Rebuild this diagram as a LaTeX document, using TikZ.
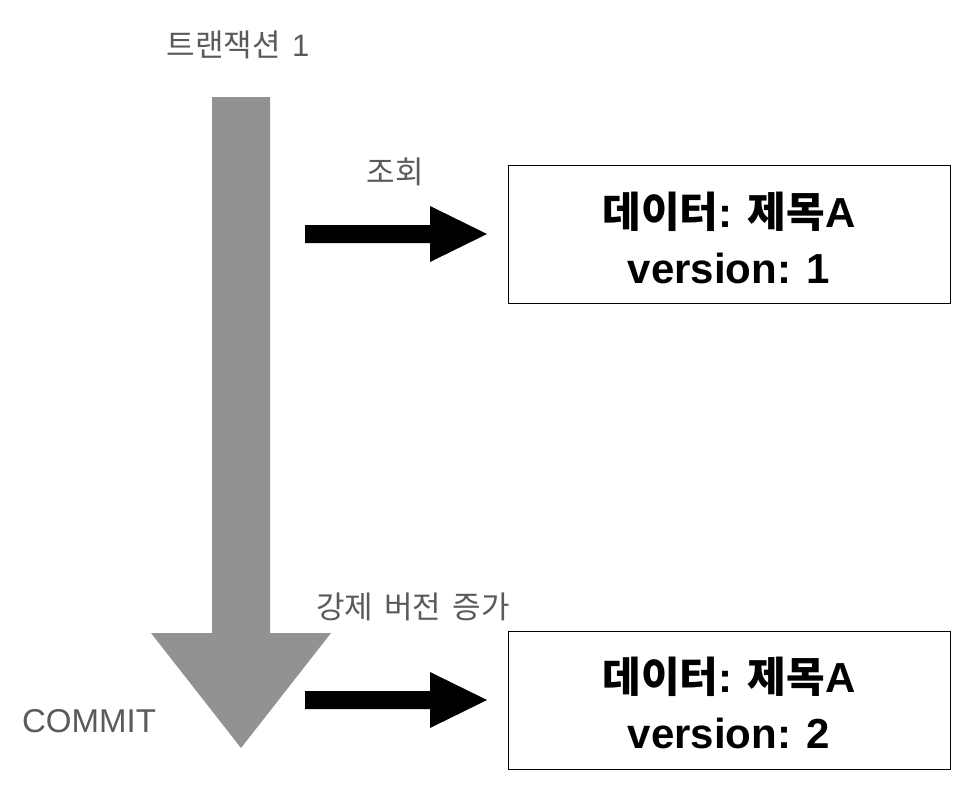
\documentclass[tikz,border=0pt]{standalone}
\usepackage{fontspec}
\setmainfont{Liberation Sans}
\newfontfamily\kr[WordSpace=1.6]{Noto Sans CJK KR}
\definecolor{arrowgray}{HTML}{929292}
\definecolor{labelgray}{HTML}{5A5A5A}
\begin{document}
\begin{tikzpicture}[x=1pt,y=-1pt,
  lbl/.style={text=labelgray,font=\fontsize{31}{36}\selectfont,inner sep=0pt},
  databox/.style={draw=black,line width=1pt,fill=white,minimum width=442pt,minimum height=138pt,anchor=north west,inner sep=0pt},
  boxtext/.style={font=\bfseries\fontsize{42}{50}\selectfont,inner sep=0pt,text=black}]
\useasboundingbox (0,0) rectangle (968,784);
\fill[white] (0,0) rectangle (968,784);
% big transaction arrow
\coordinate (txtop) at (241,97);
\coordinate (txtip) at (241,748);
\fill[arrowgray] (212,97) -- (270,97) -- (270,633) -- (331,633) -- (txtip) -- (151,633) -- (212,633) -- cycle;
% labels
\node[lbl] (tx) at (238,45) {{\kr 트랜잭션}\hspace{3pt} 1};
\node[lbl] (read) at (395,172) {\kr 조회};
\node[lbl] (force) at (413,607) {\kr 강제 버전 증가};
\node[lbl,font=\fontsize{33}{38}\selectfont] (commit) at (89,721) {COMMIT};
% boxes
\node[databox] (box1) at (508,165) {};
\node[boxtext] (b1l1) at (729,212) {{\kr 데이터}: {\kr 제목}A};
\node[boxtext] (b1l2) at (729,268) {version: 1};
\node[databox] (box2) at (508,631) {};
\node[boxtext] (b2l1) at (729,677) {{\kr 데이터}: {\kr 제목}A};
\node[boxtext] (b2l2) at (729,733) {version: 2};
% block arrows
\fill[black] (305,225) -- (430,225) -- (430,206) -- (487,234) -- (430,262) -- (430,243) -- (305,243) -- cycle;
\fill[black] (305,691) -- (430,691) -- (430,672) -- (487,700) -- (430,728) -- (430,709) -- (305,709) -- cycle;
\end{tikzpicture}
\end{document}
